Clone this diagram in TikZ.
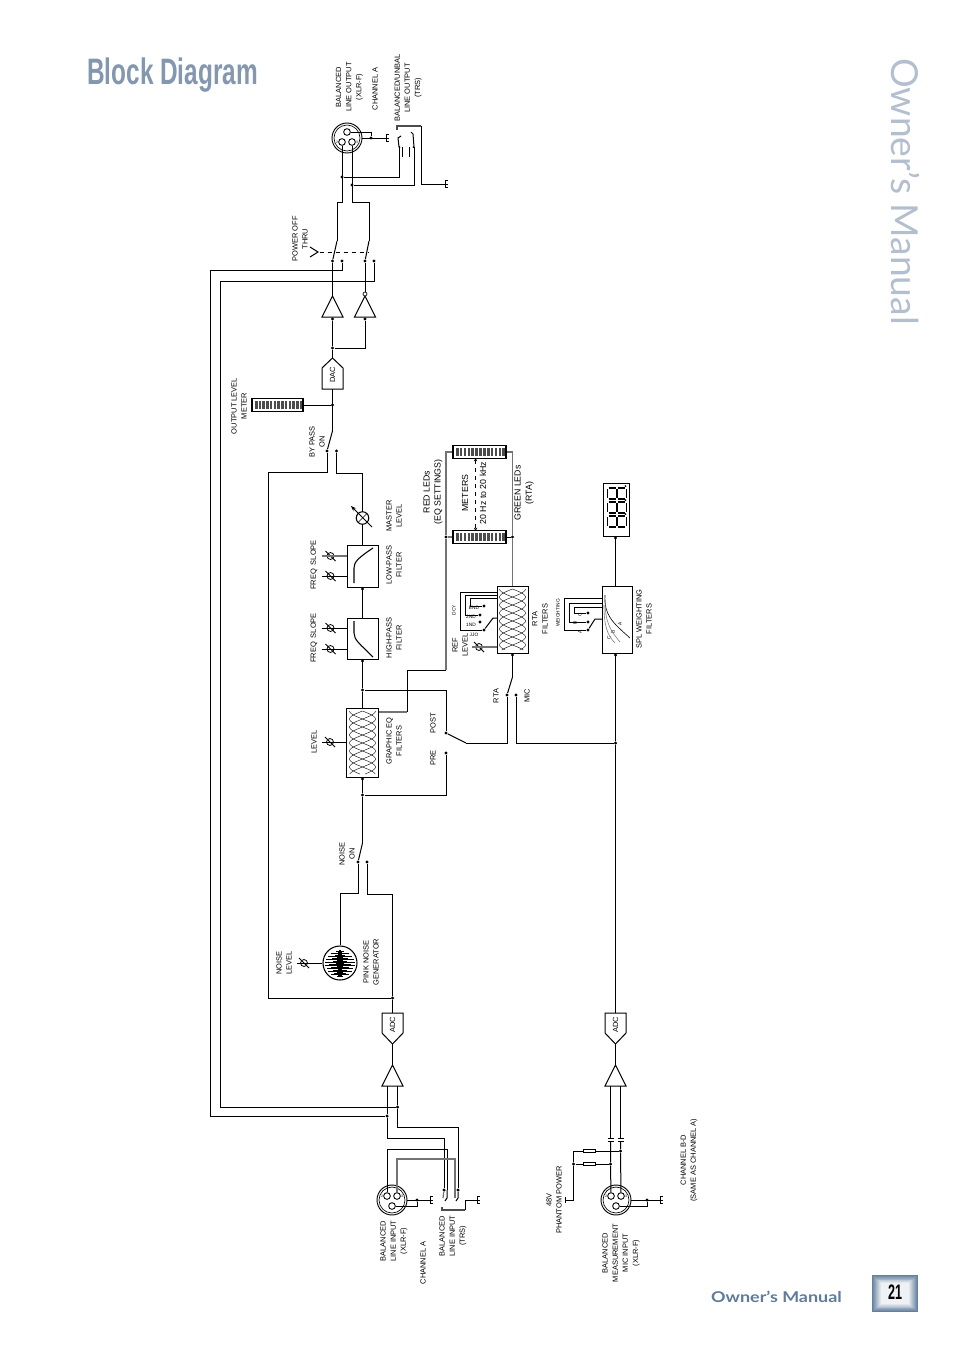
\documentclass[tikz,border=0pt]{standalone}
\usepackage{fontspec}
\setmainfont{Liberation Sans}
\newfontfamily\manualfont{Lato}
\usetikzlibrary{arrows.meta}
\definecolor{titleblue}{HTML}{8397AF}
\definecolor{manualblue}{HTML}{5F7B9C}
\definecolor{sideblue}{HTML}{B3BFCE}
\definecolor{pageblue}{HTML}{64809F}
\tikzset{
  wire/.style={line width=.75pt},
  greywire/.style={line width=.9pt,color=black!55},
  thinline/.style={line width=.3pt},
  dot/.style={circle,fill=black,inner sep=0pt,minimum size=2.6pt},
  lbl/.style={rotate=90,align=center,inner sep=0pt,font=\fontsize{5.6}{7.6}\selectfont},
  bigtext/.style={rotate=90,align=center,inner sep=0pt,font=\fontsize{6.6}{8.4}\selectfont},
  tinytext/.style={inner sep=0pt,font=\fontsize{3.6}{4}\selectfont},
  blockbox/.style 2 args={draw,line width=.7pt,inner sep=0pt,minimum width=#1*0.75pt,minimum height=#2*0.75pt},
  resbox/.style={draw,line width=.5pt,fill=white,inner sep=0pt,minimum width=9pt,minimum height=2.4pt},
  knobring/.style={circle,draw,line width=.6pt,inner sep=0pt,minimum size=5.2pt},
  pinring/.style={circle,draw,line width=.65pt,inner sep=0pt,minimum size=5pt},
}
\newcommand{\trimknob}[3]{
  \node[knobring] (#1) at (#2,#3) {};
  \draw[wire] (#2-5,#3-5) -- (#2+5,#3+5);
}
\newcommand{\gndsym}[3]{
  \coordinate (#1) at (#2,#3);
  \draw[line width=.55pt] (#2,#3-3.5) -- (#2,#3+3.5) (#2,#3-3.5) -- (#2+2.5,#3-3.5) (#2,#3) -- (#2+2.5,#3) (#2,#3+3.5) -- (#2+2.5,#3+3.5);
}
\newcommand{\xlrsym}[4]{
  \node[circle,draw,line width=.7pt,inner sep=0pt,minimum size=22.5pt] (#1) at (#2,#3) {};
  \draw[line width=.5pt] (#2,#3) circle[radius=13];
  \node[pinring] (#1p1) at (#2,#3+6*#4) {};
  \node[pinring] (#1p2) at (#2-5,#3-4*#4) {};
  \node[pinring] (#1p3) at (#2+5,#3-4*#4) {};
  \node[inner sep=0pt,font=\fontsize{2.6}{3}\selectfont] (#1n2) at (#2-10,#3-4*#4) {2};
  \node[inner sep=0pt,font=\fontsize{2.6}{3}\selectfont] (#1n3) at (#2+10,#3-4*#4) {3};
}
\newcommand{\switchsym}[7]{
  \coordinate (#1top) at (#2,#3);
  \node[dot] (#1a) at (#4,#5) {};
  \node[dot] (#1b) at (#6,#7) {};
  \draw[wire] (#1top) -- (#1a);
}
\newcommand{\ampsym}[4]{
  \draw[wire] (#2,#3) -- (#2-10.5,#4) -- (#2+10.5,#4) -- cycle;
  \coordinate (#1tip) at (#2,#3);
}
\newcommand{\pentasym}[5]{
  \draw[wire] (#2-10.5,#3) -- (#2+10.5,#3) -- (#2+10.5,#4) -- (#2,#5) -- (#2-10.5,#4) -- cycle;
  \coordinate (#1base) at (#2,#3);
  \coordinate (#1tip) at (#2,#5);
}
\newcommand{\ledmeter}[4]{
  \node[draw,line width=.85pt,inner sep=0pt,minimum width=#4*0.75pt,minimum height=9.4pt] (#1) at (#2,#3) {};
  \foreach \i in {0,...,12}
    \fill[black!70] (#2-#4/2+3+\i*#4/13.7,#3-4) rectangle ++(2.6,8);
}
\newcommand{\sevenseg}[1]{
  \draw[line width=1.2pt] (607.5,#1+1) -- (607.5,#1+10) (617,#1+1) -- (617,#1+10) (626.5,#1+1) -- (626.5,#1+10);
  \draw[line width=1.2pt] (608.7,#1) -- (615.8,#1) (618.2,#1) -- (625.3,#1) (608.7,#1+11) -- (615.8,#1+11) (618.2,#1+11) -- (625.3,#1+11);
  \fill (625.5,#1-2) circle[radius=1];
}
\newcommand{\filterbank}[3]{
  \foreach \ph in {0,90,180,270}
    \draw[thinline] plot[smooth,variable=\t,domain=#2:#3,samples=50] ({#1+13*sin((\t-#2)*11.25+\ph)},\t);
}
\begin{document}
\begin{tikzpicture}[x=0.75pt,y=-0.75pt]
        \path[use as bounding box,fill=white] (0,0) rectangle (954,1350);

        \node[anchor=base west,inner sep=0pt,text=titleblue] (title) at (87,84) {\resizebox{128pt}{20pt}{\bfseries Block Diagram}};
        \node[rotate=-90,anchor=center,inner sep=0pt,text=sideblue] (sidetitle) at (906,191.5) {\resizebox{200pt}{!}{\manualfont Owner’s Manual}};
        \node[inner sep=0pt,text=manualblue] (foottitle) at (776.5,1297) {\resizebox{98pt}{8.6pt}{\manualfont\bfseries Owner’s Manual}};
        \foreach \i in {0,...,9}{
          \pgfmathsetmacro{\shade}{100-\i*10}
          \fill[pageblue!\shade!white] (872+\i,1275+\i*.9) rectangle (918-\i,1312-\i*.9);
        }
        \node[inner sep=0pt] (pagenum) at (895,1292) {\resizebox{10.5pt}{11pt}{\bfseries 21}};

        \xlrsym{xout}{347}{138}{-1}
        \xlrsym{xin}{392}{1200}{1}
        \xlrsym{xmic}{616}{1200}{1}
        \node[lbl] (lxout) at (349.5,87) {BALANCED\\LINE OUTPUT\\(XLR-F)};
        \node[lbl] (lcha) at (375,89) {CHANNEL A};
        \node[lbl] (ltrsout) at (408,88) {BALANCED/UNBAL\\LINE OUTPUT\\(TRS)};
        \node[lbl] (lthru) at (300,239) {POWER OFF\\THRU};
        \node[lbl] (lmeter) at (239,406) {OUTPUT LEVEL\\METER};
        \node[lbl] (lbypass) at (317,442) {BY PASS\\ON};
        \node[lbl] (lmaster) at (394,516) {MASTER\\LEVEL};
        \node[lbl] (llow) at (394,565) {LOW-PASS\\FILTER};
        \node[lbl] (lhigh) at (394,638) {HIGH-PASS\\FILTER};
        \node[lbl] (lfs1) at (314,565) {FREQ\ \ SLOPE};
        \node[lbl] (lfs2) at (314,638) {FREQ\ \ SLOPE};
        \node[bigtext] (lred) at (433,492) {RED LEDs\\(EQ SETTINGS)};
        \node[bigtext] (lmeters) at (465,493) {METERS};
        \node[bigtext] (lhz) at (483,493) {20 Hz to 20 kHz};
        \node[bigtext] (lgreen) at (524,493) {GREEN LEDs\\(RTA)};
        \node[lbl] (lrta) at (540,619) {RTA\\FILTERS};
        \node[lbl] (lref) at (460,645) {REF\\LEVEL};
        \node[lbl] (lspl) at (644,619) {SPL WEIGHTING\\FILTERS};
        \node[lbl] (lgeq) at (394,741) {GRAPHIC EQ\\FILTERS};
        \node[lbl] (llevel) at (314,742) {LEVEL};
        \node[lbl] (lpost) at (433,723) {POST};
        \node[lbl] (lpre) at (433,758) {PRE};
        \node[lbl] (lrtasw) at (496,696) {RTA};
        \node[lbl] (lmicsw) at (527,696) {MIC};
        \node[lbl] (lnoise) at (347,854) {NOISE\\ON};
        \node[lbl] (lnlevel) at (284,963) {NOISE\\LEVEL};
        \node[lbl] (lpink) at (371,962) {PINK NOISE\\GENERATOR};
        \node[lbl] (ldac) at (332.5,375) {DAC};
        \node[lbl] (ladca) at (392.5,1025) {ADC};
        \node[lbl] (ladcb) at (615.5,1025) {ADC};
        \node[lbl] (lxin) at (394,1241) {BALANCED\\LINE INPUT\\(XLR-F)};
        \node[lbl] (lchan) at (423,1263) {CHANNEL A};
        \node[lbl] (ltrsin) at (453,1236) {BALANCED\\LINE INPUT\\(TRS)};
        \node[lbl] (lphantom) at (554,1200) {48V\\PHANTOM POWER};
        \node[lbl] (lxmic) at (621,1253) {BALANCED\\MEASUREMENT\\MIC INPUT\\(XLR-F)};
        \node[lbl] (lchbd) at (689,1160) {CHANNEL B-D\\(SAME AS CHANNEL A)};
        \node[tinytext,rotate=90] (ldcy) at (454,610) {DCY};
        \node[tinytext,rotate=90] (lweight) at (558,613) {WEIGHTING};
        \node[tinytext] (ld3) at (474,608) {END};
        \node[tinytext] (ld2) at (471,617) {2ND};
        \node[tinytext] (ld1) at (471,625) {1ND};
        \node[tinytext] (ldo) at (474,635) {JJO};
        \node[tinytext,rotate=90] (lwc) at (580,615) {C};
        \node[tinytext,rotate=90] (lwb) at (575,623) {B};
        \node[tinytext,rotate=90] (lwa) at (580,632) {A};
        \node[tinytext,rotate=90] (lca) at (620,624) {A};
        \node[tinytext,rotate=90] (lcb) at (613,632) {B};
        \node[tinytext,rotate=90] (lcc) at (609,638) {C};

        \switchsym{gangl}{337}{241}{332.5}{261}{342}{261}
        \switchsym{gangr}{369}{241}{365}{261}{374}{261}
        \switchsym{bypass}{332.5}{431}{327}{451}{336.5}{451}
        \switchsym{noisesw}{362.5}{843}{358}{862}{367}{862}
        \switchsym{rtamic}{512.5}{677}{507}{695}{516}{695}
        \switchsym{tap}{466}{743}{446}{733}{446}{753}

        \node[dot] (jina) at (397.5,1107) {};
        \node[dot] (jinb) at (387,1116) {};
        \node[dot] (jadc) at (392.5,998) {};
        \node[dot] (jmic) at (615.5,743) {};
        \node[dot] (jpost) at (362.5,690) {};
        \node[dot] (jpre) at (362.5,795) {};
        \node[blockbox={31}{42}] (lowpass) at (362.5,566) {};
        \node[blockbox={31}{41}] (hipass) at (362.5,638.5) {};
        \node[blockbox={32}{69}] (geq) at (362.5,742.5) {};
        \node[blockbox={31}{67}] (rta) at (512.5,619.5) {};
        \node[blockbox={30}{67}] (spl) at (617,619.5) {};
        \node[blockbox={26}{53}] (leddisp) at (616,509.5) {};
        \node[circle,draw,line width=.8pt,inner sep=0pt,minimum size=25.5pt] (pinknoise) at (340,963) {};

        \node[dot] (joutb) at (342,177) {};
        \node[dot] (joutc) at (352,185) {};
        \node[dot] (jshell) at (371,138) {};
        \coordinate (trsotip) at (399,147);
        \coordinate (trsoring) at (414,147);
        \gndsym{gndx}{386}{138}
        \gndsym{gndt}{445}{184}
        \draw[wire] (xoutp2) -- (342,202) -| (gangltop);
        \draw[wire] (xoutp3) -- (352,202) -| (gangrtop);
        \draw[wire] (joutb) -| (trsotip);
        \draw[wire] (joutc) -| (trsoring);
        \draw[wire] (xoutp1) -| (jshell);
        \draw[wire] (xout) -- (gndx);
        \draw[line width=1.1pt,black!70] (397,130) -- (397,126) -- (421,126);
        \draw[wire] (421,126) |- (gndt);
        \draw[wire] (trsotip) -- (398,138) -- (401,136);
        \draw[wire] (trsoring) -- (413,134) -- (411,132);
        \draw[wire] (402,147) -- (402,157) (409,147) -- (409,157);
        \fill (399.5,147) circle[radius=1] (413.5,147) circle[radius=1];

        \node[circle,inner sep=0pt,minimum size=2pt] (thrutip) at (318,252) {};
        \draw[wire] (310,247) -- (thrutip.center) -- (310,257);
        \coordinate (dashend) at (369,252);
        \draw[wire,dashed] (thrutip) -- (dashend);

        \ampsym{ampl}{332.5}{296}{317}
        \ampsym{ampr}{365}{296}{317}
        \node[dot] (amplin) at (332.5,319) {};
        \node[dot] (amprin) at (365,319) {};
        \draw[line width=.5pt,fill=white] (365,294) circle[radius=2];
        \node[dot] (jamp) at (332.5,348) {};
        \pentasym{dac}{332.5}{389}{368}{358}
        \draw[wire] (gangla) -- (ampltip);
        \draw[wire] (ganglb) |- (210,270) -- (210,1116) -- (jinb);
        \draw[wire] (gangra) -- (365,292);
        \draw[wire] (gangrb) |- (220,281) -- (220,1107) -- (jina);
        \draw[wire] (amplin) -- (jamp) -- (dactip);
        \draw[wire] (jamp) -| (amprin);

        \node[dot] (jmeter) at (332.5,405) {};
        \ledmeter{outmeter}{277.5}{405}{51}
        \draw[wire] (dacbase) -- (bypasstop);
        \draw[wire] (jmeter) -- (outmeter);

        \node[circle,draw,line width=.8pt,inner sep=0pt,minimum size=9.4pt] (master) at (362.5,518) {};
        \coordinate (mastertail) at (372,527);
        \coordinate (masterhead) at (351,506);
        \draw[wire,-{Stealth[length=4pt,width=3pt]}] (mastertail) -- (masterhead);
        \draw[thinline] (358.5,522) -- (366.5,514);
        \node[dot] (lpin) at (362.5,589) {};
        \node[dot] (hpin) at (362.5,661) {};
        \node[dot] (geqin) at (362.5,779) {};
        \draw[wire] (bypassa) |- (268,472) -- (268,998) -- (jadc);
        \draw[wire] (bypassb) |- (362.5,473) -- (master);
        \draw[wire] (master) -- (lowpass);
        \draw[wire] (lowpass) -- (hipass);
        \draw[wire] (hipass) -- (jpost) -- (geq);
        \draw[wire] (geq) -- (jpre) -- (noiseswtop);
        \draw[wire] (jpost) -| (tapa);
        \draw[wire] (tapb) |- (jpre);
        \draw[wire] (rtamica) |- (taptop);
        \draw[wire] (rtamicb) |- (jmic);

        \draw[line width=.8pt] (354,583) -- (354,568) .. controls (354,562) and (358,558) .. (373,548);
        \draw[line width=.8pt] (354,621) -- (354,633) .. controls (354,640) and (360,644) .. (373,657);
        \trimknob{kf1}{330.5}{556}
        \trimknob{kf2}{330.5}{576}
        \trimknob{kf3}{330.5}{628}
        \trimknob{kf4}{330.5}{649}
        \trimknob{klevel}{330}{742}
        \trimknob{knoise}{304}{963}
        \trimknob{kref}{479}{647}
        \draw[greywire] (322,556) -- (lowpass.west |- kf1);
        \draw[wire] (322,576) -- (lowpass.west |- kf2);
        \draw[wire] (322,628) -- (hipass.west |- kf3);
        \draw[wire] (322,649) -- (hipass.west |- kf4);
        \draw[wire] (322,742) -- (geq.west |- klevel);
        \draw[wire] (297,963) -- (pinknoise.west |- knoise);
        \draw[greywire] (472,647) -- (rta.west |- kref);

        \filterbank{362.5}{711}{774}
        \filterbank{512.5}{589}{650}

        \ledmeter{ledtop}{479.5}{452}{53}
        \ledmeter{ledbot}{479.5}{537}{53}
        \node[dot] (jred) at (446,537) {};
        \node[dot] (jgreen) at (512.5,537) {};
        \node[dot] (rtain) at (512.5,655) {};
        \coordinate (geqout) at (378.5,712);
        \coordinate (mtrtop) at (475.6,458);
        \coordinate (mtrbot) at (475.6,531);
        \draw[greywire] (geqout) -- (407,712);
        \draw[wire] (407,712) -- (407,670) -- (446,670);
        \draw[greywire] (446,670) -- (jred) -- (446,452) -- (ledtop);
        \draw[greywire] (jred) -- (ledbot);
        \draw[greywire] (rta) -- (jgreen) -- (512.5,452) -- (ledtop);
        \draw[wire] (jgreen) -- (ledbot);
        \draw[wire,dashed,{Stealth[length=2.5pt,width=2.5pt]}-{Stealth[length=2.5pt,width=2.5pt]}] (mtrtop) -- (mtrbot);
        \draw[wire] (rtamictop) -- (rta);

        \node[dot] (dc3) at (484,606) {};
        \node[dot] (dc2) at (480,615) {};
        \node[dot] (dc1) at (480,622) {};
        \node[dot] (dc0) at (484,630) {};
        \coordinate (rtaw) at (497,618);
        \draw[wire] (rta.west |- 0,592) -- (460,592) -- (460,630) -- (dc0);
        \draw[wire] (rta.west |- 0,595) -- (465,595) -- (465,615) -- (dc2);
        \draw[wire] (rta.west |- 0,598) -- (470,598) -- (470,606) -- (dc3);
        \draw[wire] (dc0) -- (493,618) -- (rtaw);

        \sevenseg{488}
        \sevenseg{502}
        \sevenseg{516}
        \node[dot] (splin) at (615.5,655) {};
        \node[dot] (dispin) at (615.5,538) {};
        \pentasym{adcb}{615.5}{1013}{1033}{1044}
        \ampsym{ampb}{615.5}{1065}{1086}
        \draw[wire] (adcbbase) -- (jmic) -- (jmic |- spl.south);
        \draw[wire] (jmic |- spl.north) -- (jmic |- leddisp.south);
        \draw[wire] (adcbtip) -- (ampbtip);

        \node[dot] (dw3) at (588,613) {};
        \node[dot] (dw2) at (588,622) {};
        \node[dot] (dw1) at (588,630) {};
        \coordinate (splw) at (602,619);
        \draw[wire] (spl.west |- 0,598) -- (564,598) -- (564,630) -- (dw1);
        \draw[wire] (spl.west |- 0,603) -- (569,603) -- (569,622) -- (dw2);
        \draw[wire] (spl.west |- 0,607) -- (574,607) -- (574,613) -- (dw3);
        \draw[wire] (dw1) -- (595,619) -- (splw);
        \draw[line width=.45pt] (605,595) .. controls (604,615) and (612,622) .. (630,638);
        \draw[line width=.45pt,black!50] (605,600) .. controls (605,622) and (610,630) .. (620,642);
        \draw[line width=.45pt,black!50] (604,605) .. controls (604,625) and (607,635) .. (615,643);

        \foreach \dy/\w in {-13/1,-12/4,-11/2,-10/9,-9/2,-8/5,-7/12,-6/3,-5/8,-4/14,-3/3,-2/7,-1/15,0/4,1/11,2/15,3/3,4/9,5/13,6/2,7/7,8/12,9/3,10/6,11/9,12/2,13/3}
          \draw[line width=.4pt] (340-\w,963+\dy) -- (340+\w,963+\dy);
        \fill (338.8,950) rectangle (341.2,976);
        \draw[wire] (pinknoise) -- (340,893) -- (358,893) -- (noiseswa);
        \draw[wire] (noiseswb) -- (367,894) -- (392.5,894) -- (jadc);

        \pentasym{adca}{392.5}{1013}{1033}{1044}
        \ampsym{ampa}{392.5}{1065}{1086}
        \draw[wire] (jadc) -- (adcabase);
        \draw[wire] (adcatip) -- (ampatip);

        \coordinate (ampap) at (387,1086);
        \coordinate (ampam) at (397.5,1086);
        \node[dot] (trsatip) at (444,1190) {};
        \node[dot] (trsaring) at (458,1190) {};
        \coordinate (trsnormal) at (447,1190);
        \coordinate (trsnormalb) at (455,1190);
        \node[dot] (jinshell) at (417,1200) {};
        \gndsym{gndin}{430}{1200}
        \gndsym{gndtrs}{477}{1200}
        \draw[wire] (ampap) -- (jinb) -- (387,1138) -- (444,1138) -- (trsatip);
        \draw[wire] (ampam) -- (jina) -- (397.5,1127) -- (458,1127) -- (trsaring);
        \draw[wire] (xinp2) -- (387,1149) -- (447,1149) -- (trsnormal);
        \draw[greywire] (xinp3) -- (397,1159) -- (455,1159) -- (trsnormalb);
        \draw[wire] (xinp1) -| (jinshell);
        \draw[wire] (xin) -- (gndin);
        \draw[greywire] (trsatip) -- (443,1198);
        \draw[wire] (trsaring) -- (458,1198) -- (456,1201);
        \draw[wire] (trsnormal) -- (447,1198) -- (445,1201);
        \draw[greywire] (trsnormalb) -- (455,1198);
        \draw[line width=1.1pt,black!70] (442,1207) -- (442,1210) -- (465,1210);
        \draw[wire] (465,1210) |- (gndtrs);

        \coordinate (ampbp) at (610.5,1086);
        \coordinate (ampbm) at (620.5,1086);
        \coordinate (capat) at (610.5,1138);
        \coordinate (capab) at (610.5,1141);
        \coordinate (capbt) at (620.5,1138);
        \coordinate (capbb) at (620.5,1141);
        \node[dot] (jres1) at (620.5,1151) {};
        \node[dot] (jres2) at (610.5,1164) {};
        \node[dot] (jphm) at (573.5,1164) {};
        \coordinate (jpht) at (573.5,1151);
        \coordinate (jphe) at (573.5,1200);
        \coordinate (phbar) at (565,1200);
        \node[resbox] (res1) at (589,1151) {};
        \node[resbox] (res2) at (589,1164) {};
        \node[dot] (jmicshell) at (647,1200) {};
        \gndsym{gndmic}{660}{1200}
        \draw[wire] (ampbp) -- (capat);
        \draw[wire] (ampbm) -- (capbt);
        \draw[wire] (capab) -- (jres2) -- (xmicp2);
        \draw[wire] (capbb) -- (jres1) -- (xmicp3);
        \draw[wire] (607.5,1138) -- (613.5,1138) (607.5,1141) -- (613.5,1141);
        \draw[wire] (617.5,1138) -- (623.5,1138) (617.5,1141) -- (623.5,1141);
        \draw[wire] (jres1) -- (res1) -- (jpht);
        \draw[wire] (jres2) -- (res2) -- (jphm);
        \draw[wire] (jpht) -- (jphm) -- (jphe) -- (phbar);
        \draw[wire] (565,1197) -- (565,1203);
        \draw[wire] (xmicp1) -| (jmicshell);
        \draw[wire] (xmic) -- (gndmic);
\end{tikzpicture}
\end{document}
